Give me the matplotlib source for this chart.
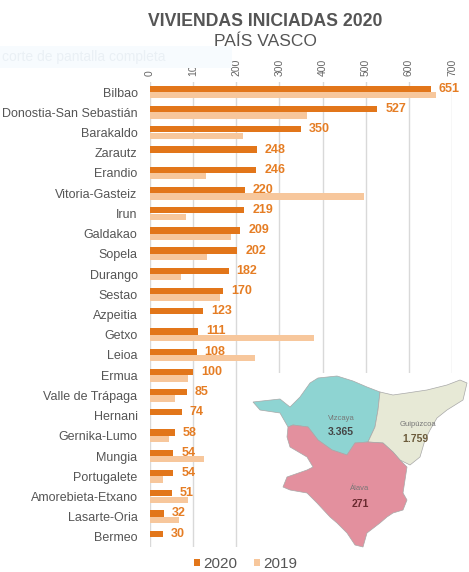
import matplotlib
matplotlib.use("Agg")
import matplotlib.pyplot as plt
from matplotlib.patches import Polygon, Rectangle
import numpy as np

plt.rcParams['font.family'] = ['Liberation Sans', 'DejaVu Sans']

# Data
municipios = ["Bilbao", "Donostia-San Sebastián", "Barakaldo", "Zarautz", "Erandio",
              "Vitoria-Gasteiz", "Irun", "Galdakao", "Sopela", "Durango", "Sestao",
              "Azpeitia", "Getxo", "Leioa", "Ermua", "Valle de Trápaga", "Hernani",
              "Gernika-Lumo", "Mungia", "Portugalete", "Amorebieta-Etxano",
              "Lasarte-Oria", "Bermeo"]
viv_2020 = [651, 527, 350, 248, 246, 220, 219, 209, 202, 182, 170, 123, 111, 108,
            100, 85, 74, 58, 54, 54, 51, 32, 30]
viv_2019 = [663, 363, 216, 0, 130, 497, 84, 187, 133, 72, 163, 0, 381, 244,
            88, 58, 0, 45, 125, 29, 88, 67, 0]

provincias = ["Vizcaya", "Guipúzcoa", "Álava"]
prov_totales = ["3.365", "1.759", "271"]

# Map outlines (figure pixel coordinates)
shape_vizcaya = [(253, 402), (280, 399), (290, 407), (300, 397), (310, 383), (318, 378),
                 (337, 376), (353, 381), (367, 387), (380, 392), (378, 410), (375, 427),
                 (368, 442), (355, 443), (347, 455), (332, 450), (318, 440), (308, 427),
                 (293, 425), (288, 427), (280, 413), (260, 410)]
shape_guipuzcoa = [(380, 392), (393, 395), (407, 393), (427, 390), (447, 385), (460, 380),
                   (467, 383), (463, 400), (447, 410), (437, 418), (430, 430), (425, 440),
                   (420, 457), (410, 465), (400, 460), (393, 452), (383, 443), (368, 442),
                   (375, 427), (378, 410)]
shape_alava = [(288, 427), (293, 425), (308, 427), (318, 440), (332, 450), (347, 455),
               (355, 443), (368, 442), (383, 443), (393, 452), (400, 460), (407, 467),
               (403, 493), (407, 500), (403, 510), (393, 513), (387, 517), (380, 523),
               (367, 533), (363, 547), (355, 545), (347, 533), (337, 523), (330, 517),
               (317, 503), (307, 493), (290, 490), (283, 487), (287, 477), (307, 470),
               (313, 467), (307, 457), (290, 447), (287, 437)]

c2020 = "#e2761a"
c2019 = "#f7c79c"
clabel = "#e57d24"

W, H = 469, 572
fig = plt.figure(figsize=(W / 100, H / 100), dpi=100)
ax = fig.add_axes([150 / W, 1 - 547 / H, 302 / W, 465 / H])

y = np.arange(len(municipios))
bh = 0.31
ax.barh(y - 0.16, viv_2020, height=bh, color=c2020, label="2020", zorder=3)
ax.barh(y + 0.16, viv_2019, height=bh, color=c2019, label="2019", zorder=3)

for yi, v in zip(y, viv_2020):
    ax.annotate(str(v), (v, yi - 0.16), xytext=(8, 0), textcoords="offset pixels",
                va="center", ha="left", fontsize=9, fontweight="bold", color=clabel,
                annotation_clip=False, zorder=4)

ax.set_xlim(0, 700)
ax.set_ylim(len(municipios) - 0.5, -0.5)
ax.set_xticks(range(0, 701, 100))
ax.set_yticks(y)
ax.set_yticklabels(municipios)
ax.xaxis.tick_top()
ax.tick_params(axis="x", length=0, labelsize=7.5, labelcolor="#666666",
               labelrotation=90, pad=4)
ax.tick_params(axis="y", length=0, labelsize=9, labelcolor="#555555", pad=9)
ax.grid(axis="x", color="#d9d9d9", linewidth=1, zorder=0)
for s in ax.spines.values():
    s.set_visible(False)

handles, labels = ax.get_legend_handles_labels()
fig.legend(handles, labels, loc="center", bbox_to_anchor=(246 / W, 1 - 564 / H), ncol=2,
           frameon=False, fontsize=11, handlelength=0.35, handleheight=0.4,
           handletextpad=0.25, columnspacing=1.1, labelcolor="#555555", borderpad=0.1)

# Titles
fig.text(265 / W, 1 - 21 / H, "VIVIENDAS INICIADAS 2020", ha="center", va="center",
         fontsize=12.7, fontweight="bold", color="#555555")
fig.text(265 / W, 1 - 42 / H, "PAÍS VASCO", ha="center", va="center",
         fontsize=12.5, color="#555555")

# Overlay for map and screenshot artifact
ov = fig.add_axes([0, 0, 1, 1], zorder=5)
ov.set_xlim(0, W)
ov.set_ylim(H, 0)
ov.axis("off")
ov.patch.set_alpha(0)
ov.add_patch(Rectangle((0, 46), 232, 22, facecolor="#f7fbfe", edgecolor="none"))
ov.text(2, 57, "corte de pantalla completa", va="center", ha="left", fontsize=10,
        color="#eaf0f5")

ov.add_patch(Rectangle((248, 373), W - 248, 175, facecolor="white", edgecolor="none"))
for pts, col in zip([shape_vizcaya, shape_guipuzcoa, shape_alava],
                    ["#8ed4d2", "#e7e9d6", "#e3909e"]):
    ov.add_patch(Polygon(pts, closed=True, facecolor=col, edgecolor="#a8a8a8", linewidth=0.5))

name_pos = [(341, 418), (418, 425), (360, 489)]
num_pos = [(341, 432), (415, 439), (360, 504)]
num_cols = ["#444444", "#6b5a3a", "#6a2a30"]
for name, tot, (nx, ny), (tx, ty), nc in zip(provincias, prov_totales, name_pos, num_pos, num_cols):
    ov.text(nx, ny, name, ha="center", va="center", fontsize=5.5, color="#777777")
    ov.text(tx, ty, tot, ha="center", va="center", fontsize=7.5, fontweight="bold", color=nc)

fig.savefig("out.png", dpi=100, facecolor="white")
